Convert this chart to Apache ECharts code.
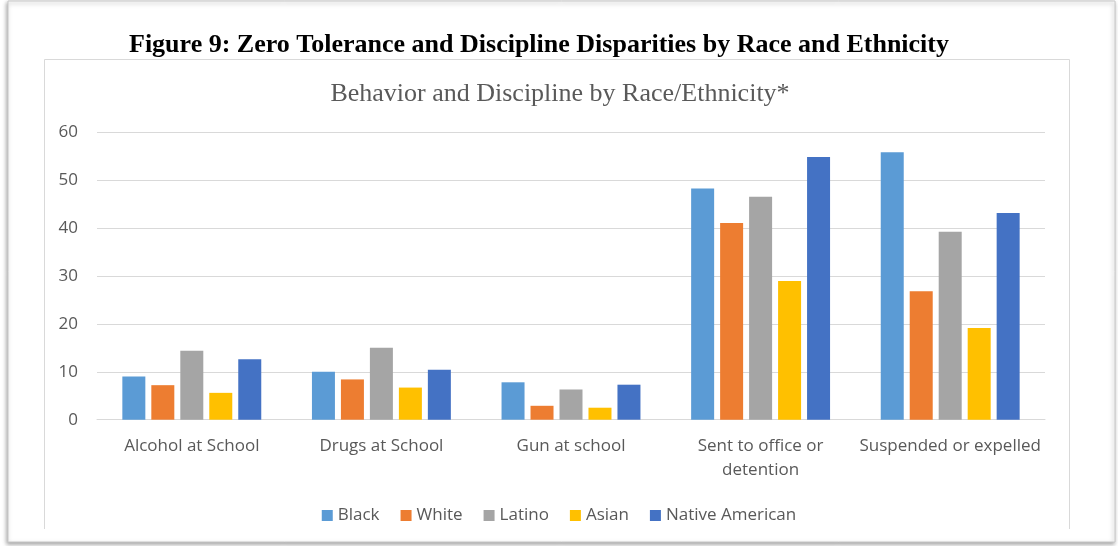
<!DOCTYPE html>
<html>
<head>
<meta charset="utf-8">
<script src="https://cdn.jsdelivr.net/npm/echarts@6/dist/echarts.min.js"></script>
<style>
html,body{margin:0;padding:0;background:#fff;}
#chart{width:1118px;height:546px;}
</style>
</head>
<body>
<div id="chart"></div>
<script>
const figureTitle = 'Figure 9: Zero Tolerance and Discipline Disparities by Race and Ethnicity';
const chartTitle = 'Behavior and Discipline by Race/Ethnicity*';
const categories = ['Alcohol at School', 'Drugs at School', 'Gun at school', 'Sent to office or\ndetention', 'Suspended or expelled'];
const seriesNames = ['Black', 'White', 'Latino', 'Asian', 'Native American'];
const black = [9.0, 10.0, 7.8, 48.2, 55.8];
const white = [7.2, 8.4, 2.9, 41.0, 26.8];
const latino = [14.4, 15.0, 6.3, 46.5, 39.2];
const asian = [5.6, 6.7, 2.5, 28.9, 19.1];
const nativeAmerican = [12.6, 10.4, 7.3, 54.8, 43.1];
const yTicks = [0, 10, 20, 30, 40, 50, 60];

const colors = ['#5B9BD5', '#ED7D31', '#A5A5A5', '#FFC000', '#4472C4'];
const values = [black, white, latino, asian, nativeAmerican];

const chart = echarts.init(document.getElementById('chart'), null, {renderer: 'canvas'});
chart.setOption({
  animation: false,
  backgroundColor: '#fff',
  graphic: [
    {type: 'rect', shape: {x: 8, y: 1, width: 1107, height: 541},
     style: {fill: '#fff', stroke: '#c8c8c8', lineWidth: 1, shadowBlur: 4, shadowColor: 'rgba(0,0,0,0.35)', shadowOffsetX: -1, shadowOffsetY: 2}, z: -10},
    {type: 'polyline', shape: {points: [[44.5, 529], [44.5, 59.5], [1069.5, 59.5], [1069.5, 529]]},
     style: {stroke: '#d9d9d9', lineWidth: 1, fill: null}, z: -5},
    {type: 'text', x: 539, y: 45,
     style: {text: figureTitle, font: 'bold 26px "Liberation Serif", "Times New Roman", serif', fill: '#000', textAlign: 'center', textVerticalAlign: 'middle'}, z: 10}
  ],
  title: {
    text: chartTitle,
    left: 555, textAlign: 'center', top: 76,
    textStyle: {fontFamily: '"Liberation Serif", "Times New Roman", serif', fontWeight: 'normal', fontSize: 26, color: '#595959'}
  },
  color: colors,
  legend: {
    data: seriesNames,
    left: 'center', top: 502,
    itemWidth: 11, itemHeight: 11, itemGap: 21,
    icon: 'rect',
    textStyle: {fontFamily: '"Open Sans", "Noto Sans", sans-serif', fontSize: 17, color: '#595959'}
  },
  grid: {left: 97, right: 73, top: 132, bottom: 126.3, containLabel: false},
  xAxis: {
    type: 'category',
    data: categories,
    axisLine: {show: true, lineStyle: {color: '#d9d9d9', width: 1}},
    axisTick: {show: false},
    axisLabel: {fontFamily: '"Open Sans", "Noto Sans", sans-serif', fontSize: 17, color: '#595959', margin: 14, lineHeight: 24, interval: 0}
  },
  yAxis: {
    type: 'value',
    min: yTicks[0], max: yTicks[yTicks.length - 1], interval: 10,
    axisLine: {show: false},
    axisTick: {show: false},
    splitLine: {lineStyle: {color: '#d9d9d9', width: 1}},
    axisLabel: {fontFamily: '"Open Sans", "Noto Sans", sans-serif', fontSize: 17, color: '#595959', margin: 19}
  },
  series: seriesNames.map((n, i) => ({
    name: n,
    type: 'bar',
    data: values[i],
    barWidth: 23,
    barGap: '26%',
    itemStyle: {color: colors[i]}
  }))
});
</script>
</body>
</html>
